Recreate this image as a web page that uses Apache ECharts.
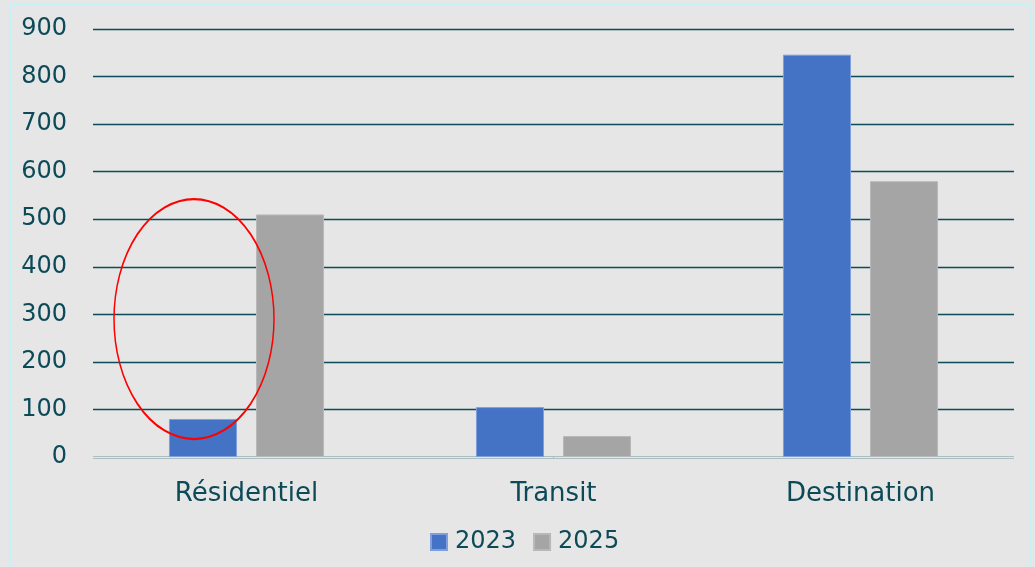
<!DOCTYPE html>
<html>
<head>
<meta charset="utf-8">
<script src="https://cdn.jsdelivr.net/npm/echarts@6/dist/echarts.min.js"></script>
<style>
  html, body { margin: 0; padding: 0; background: #e6e6e6; }
  #chart { width: 1035px; height: 567px; }
</style>
</head>
<body>
<div id="chart"></div>
<script>
const categories = ["Résidentiel", "Transit", "Destination"];
const values2023 = [80, 105, 846];
const values2025 = [510, 44, 580];
const yTicks = { min: 0, max: 900, interval: 100 };

const textColor = "#0d4a58";
const font = "'DejaVu Sans', sans-serif";

const chart = echarts.init(document.getElementById("chart"));
chart.setOption({
  backgroundColor: "#e6e6e6",
  animation: false,
  grid: { left: 93, right: 21, top: 29, bottom: 110 },
  legend: {
    bottom: 8,
    left: 425,
    itemWidth: 16,
    itemHeight: 16,
    itemGap: 17,
    icon: "rect",
    textStyle: { color: textColor, fontSize: 24, fontFamily: font, padding: [0, 0, 0, 3] },
    data: ["2023", "2025"]
  },
  xAxis: {
    type: "category",
    data: categories,
    axisTick: { show: false },
    axisLine: { lineStyle: { color: "#c8eef6", width: 1 } },
    axisLabel: { color: textColor, fontSize: 26, fontFamily: font, margin: 24 }
  },
  yAxis: {
    type: "value",
    min: yTicks.min,
    max: yTicks.max,
    interval: yTicks.interval,
    axisLine: { show: false },
    axisTick: { show: false },
    axisLabel: { color: textColor, fontSize: 24, fontFamily: font, margin: 26 },
    splitLine: { lineStyle: { color: "#0b4b5a", width: 1.3 } }
  },
  series: [
    {
      name: "2023",
      type: "bar",
      data: values2023,
      barWidth: 68,
      barGap: "28%",
      itemStyle: { color: "#4472c4", borderColor: "#7e9fdc", borderWidth: 1 }
    },
    {
      name: "2025",
      type: "bar",
      data: values2025,
      barWidth: 68,
      itemStyle: { color: "#a5a5a5", borderColor: "#b8b8b8", borderWidth: 1 }
    }
  ],
  graphic: [
    {
      type: "rect",
      shape: { x: 10, y: 4, width: 1020, height: 580 },
      style: { fill: null, stroke: "#c8f0f8", lineWidth: 2 },
      silent: true
    },
    {
      type: "circle",
      x: 194,
      y: 319,
      scaleY: 120 / 80,
      shape: { cx: 0, cy: 0, r: 80 },
      style: { fill: null, stroke: "#ff0000", lineWidth: 1.5, strokeNoScale: true },
      z: 100,
      silent: true
    }
  ]
});
</script>
</body>
</html>
